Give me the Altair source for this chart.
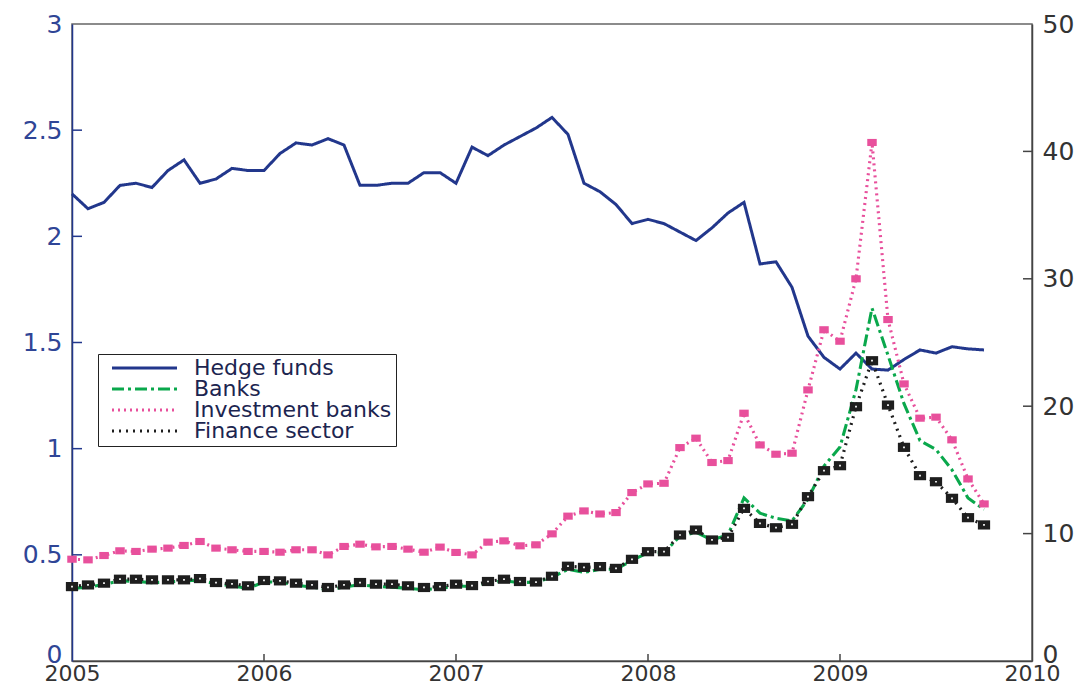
import altair as alt
import pandas as pd

# ---------------- data (monthly, Jan 2005 .. Oct 2009) ----------------
months = [f"{y}-{m:02d}" for y in range(2005, 2010) for m in range(1, 13)][:58]

hedge_funds = [2.20, 2.13, 2.16, 2.24, 2.25, 2.23, 2.31, 2.36, 2.25, 2.27, 2.32, 2.31,
               2.31, 2.39, 2.44, 2.43, 2.46, 2.43, 2.24, 2.24, 2.25, 2.25, 2.30, 2.30,
               2.25, 2.42, 2.38, 2.43, 2.47, 2.51, 2.56, 2.48, 2.25, 2.21, 2.15, 2.06,
               2.08, 2.06, 2.02, 1.98, 2.04, 2.11, 2.16, 1.87, 1.88, 1.76, 1.53, 1.43,
               1.375, 1.45, 1.375, 1.37, 1.42, 1.465, 1.45, 1.48, 1.47, 1.465]

banks = [5.7, 5.8, 6.0, 6.3, 6.25, 6.15, 6.2, 6.3, 6.35, 6.05, 5.9, 5.7,
         6.2, 6.2, 5.95, 5.8, 5.6, 5.8, 6.0, 5.85, 5.8, 5.7, 5.6, 5.7,
         5.9, 5.85, 6.1, 6.3, 6.15, 6.2, 6.55, 7.2, 6.95, 7.2, 7.2, 7.9,
         8.5, 8.5, 9.8, 10.1, 9.5, 9.9, 12.8, 11.6, 11.2, 11.0, 12.7, 15.3,
         16.8, 21.3, 27.7, 24.0, 20.2, 17.3, 16.6, 15.0, 12.8, 11.9]

investment_banks = [7.99, 7.94, 8.28, 8.65, 8.6, 8.78, 8.86, 9.07, 9.38, 8.86, 8.73, 8.6,
                    8.6, 8.54, 8.73, 8.73, 8.33, 8.99, 9.17, 8.96, 8.99, 8.78, 8.54, 8.94,
                    8.52, 8.33, 9.33, 9.43, 9.04, 9.12, 9.98, 11.37, 11.78, 11.54, 11.65, 13.22,
                    13.9, 13.95, 16.75, 17.49, 15.58, 15.73, 19.45, 16.96, 16.23, 16.31, 21.28, 26.0,
                    25.1, 30.0, 40.7, 26.8, 21.75, 19.06, 19.14, 17.36, 14.29, 12.33]

finance_sector = [5.84, 5.97, 6.11, 6.42, 6.42, 6.37, 6.37, 6.37, 6.47, 6.16, 6.05, 5.90,
                  6.32, 6.29, 6.11, 5.97, 5.77, 5.97, 6.16, 6.03, 6.03, 5.90, 5.77, 5.84,
                  6.03, 5.92, 6.24, 6.42, 6.24, 6.2, 6.65, 7.44, 7.35, 7.41, 7.27, 7.98,
                  8.58, 8.58, 9.89, 10.28, 9.5, 9.71, 11.98, 10.8, 10.46, 10.73, 12.9, 14.94,
                  15.33, 19.96, 23.57, 20.09, 16.77, 14.55, 14.07, 12.77, 11.25, 10.68]

series_names = ["Hedge funds", "Banks", "Investment banks", "Finance sector"]
series_colors = ["#22378c", "#0aa84c", "#e8509c", "#1e1e1e"]
series_dashes = [[1, 0], [12, 4, 3, 4], [2, 4], [2, 5]]
series_widths = [3, 3.2, 1.8, 1.8]

x_ticks = [2005, 2006, 2007, 2008, 2009, 2010]
left_ticks = [0, 0.5, 1, 1.5, 2, 2.5, 3]
right_ticks = [0, 10, 20, 30, 40, 50]

# ---------------- tables ----------------
yr = [int(s[:4]) + (int(s[5:]) - 1) / 12 for s in months]

df_left = pd.DataFrame({"yr": yr, "value": hedge_funds, "series": series_names[0]})
df_right = pd.concat([
    pd.DataFrame({"yr": yr, "value": banks, "series": series_names[1]}),
    pd.DataFrame({"yr": yr, "value": investment_banks, "series": series_names[2]}),
    pd.DataFrame({"yr": yr, "value": finance_sector, "series": series_names[3]}),
], ignore_index=True)
df_ib = df_right[df_right.series == series_names[2]]
df_fin = df_right[df_right.series == series_names[3]]

FONT = "DejaVu Sans"
navy = "#22378c"
grey = "#444444"

x_enc = alt.X("yr:Q",
              scale=alt.Scale(domain=[2005, 2010], nice=False, zero=False),
              axis=alt.Axis(values=x_ticks, format="d", title=None, ticks=False,
                            grid=False, labelFlush=False, labelOverlap=False,
                            domainColor=grey, domainWidth=1.5, labelColor="#333333",
                            labelFontSize=22, labelPadding=2, labelFont=FONT))

legend = alt.Legend(title=None, orient="none", legendX=26, legendY=330,
                    direction="vertical", symbolType="stroke", symbolSize=4225,
                    symbolStrokeWidth=3, clipHeight=20, labelFontSize=22,
                    labelLimit=400, symbolOffset=8, labelOffset=15,
                    labelFont=FONT, labelColor="#1c2550", strokeColor="#222222",
                    fillColor="white", padding=4, rowPadding=-2)

color_enc = alt.Color("series:N", scale=alt.Scale(domain=series_names, range=series_colors),
                      legend=legend)
dash_enc = alt.StrokeDash("series:N", scale=alt.Scale(domain=series_names, range=series_dashes),
                          legend=legend)
width_enc = alt.StrokeWidth("series:N", scale=alt.Scale(domain=series_names, range=series_widths),
                            legend=None)

left_scale = alt.Scale(domain=[0, 3], nice=False, zero=True)
right_scale = alt.Scale(domain=[0, 50], nice=False, zero=True)

zero_lift = {"condition": {"test": "datum.value === 0", "value": -7}, "value": 0}

left_axis = alt.Axis(orient="left", values=left_ticks, format="~g", title=None, ticks=False,
                     grid=False, labelFlush=False, domainColor=navy, domainWidth=1.5,
                     labelColor="#2f4596", labelFontSize=25, labelPadding=10, labelFont=FONT,
                     labelOffset=zero_lift)
right_axis = alt.Axis(orient="right", values=right_ticks, title=None, ticks=False,
                      grid=False, labelFlush=False, domainColor=grey, domainWidth=1.5,
                      labelColor="#333333", labelFontSize=25, labelPadding=10, labelFont=FONT,
                      labelOffset=zero_lift)

rect_shape = "M-1,-0.75L1,-0.75L1,0.75L-1,0.75Z"

# ---------------- left group (hedge funds) ----------------
hf_line = alt.Chart(df_left).mark_line().encode(
    x=x_enc,
    y=alt.Y("value:Q", scale=left_scale, axis=left_axis),
    color=color_enc, strokeDash=dash_enc, strokeWidth=width_enc,
)
left_tick_marks = alt.Chart(pd.DataFrame({"v": left_ticks[1:-1]})).mark_rule(
    color=navy, strokeWidth=1.5).encode(
    y=alt.Y("v:Q", title=None), x=alt.value(0), x2=alt.value(10))
left_group = alt.layer(hf_line, left_tick_marks)

# ---------------- right group ----------------
right_lines = alt.Chart(df_right).mark_line().encode(
    x=x_enc,
    y=alt.Y("value:Q", scale=right_scale, axis=right_axis),
    color=color_enc, strokeDash=dash_enc, strokeWidth=width_enc,
)
ib_pts = alt.Chart(df_ib).mark_point(shape=rect_shape, filled=True, size=90,
                                     color="#e8509c", opacity=1).encode(
    x=x_enc, y=alt.Y("value:Q", title=None))
fin_pts = alt.Chart(df_fin).mark_point(shape=rect_shape, filled=True, size=150,
                                       color="#1e1e1e", opacity=1).encode(
    x=x_enc, y=alt.Y("value:Q", title=None))
fin_dots = alt.Chart(df_fin).mark_point(shape="square", filled=True, size=3,
                                        color="white", opacity=1).encode(
    x=x_enc, y=alt.Y("value:Q", title=None))
right_tick_marks = alt.Chart(pd.DataFrame({"v": right_ticks[1:-1]})).mark_rule(
    color=grey, strokeWidth=1.5).encode(
    y=alt.Y("v:Q", title=None), x=alt.value(960), x2=alt.value(951))
bottom_tick_marks = alt.Chart(pd.DataFrame({"t": x_ticks[1:-1]})).mark_rule(
    color=grey, strokeWidth=1.5).encode(
    x=alt.X("t:Q", title=None), y=alt.value(637), y2=alt.value(630))

right_group = alt.layer(right_lines, ib_pts, fin_pts, fin_dots,
                        right_tick_marks, bottom_tick_marks)

chart = alt.layer(left_group, right_group).resolve_scale(y="independent").properties(
    width=960, height=637,
    padding={"left": 64, "top": 16, "right": 44, "bottom": 25},
    autosize=alt.AutoSizeParams(type="none"),
).configure_view(stroke="#666666", strokeWidth=1.5)

chart.save("out.html", embed_options={"renderer": "svg", "actions": False})
